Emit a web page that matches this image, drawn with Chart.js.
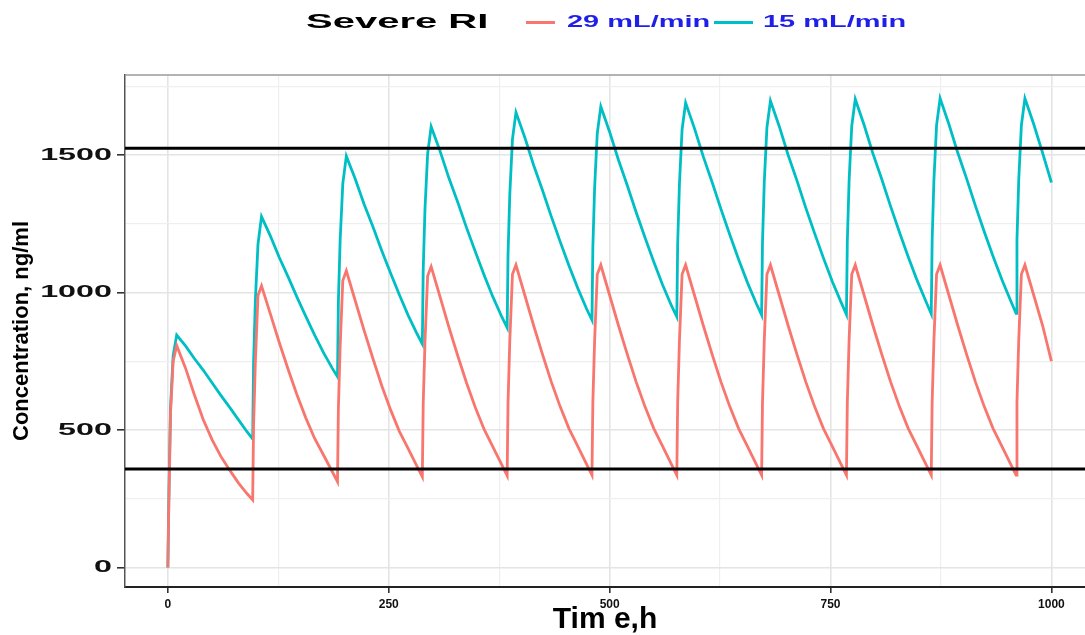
<!DOCTYPE html>
<html>
<head>
<meta charset="utf-8">
<script src="https://cdn.jsdelivr.net/npm/chart.js@4.4.1/dist/chart.umd.min.js"></script>
<style>
  html, body { margin: 0; padding: 0; background: #fff; overflow: hidden; }
  #wrap { position: relative; width: 1085px; height: 635px; }
  #grafico { position: absolute; left: 0; top: 0; }
  .leg { position: absolute; font-family: "Liberation Sans", Arial, sans-serif; font-weight: bold; white-space: nowrap; transform-origin: 0 0; }
  #titulo { left: 306px; top: 11px; font-size: 20px; line-height: 20px; color: #000; }
  .serie { top: 13px; font-size: 17px; line-height: 17px; color: #1f1fe8; }
  .traco { position: absolute; top: 21px; height: 3px; }
</style>
</head>
<body>
<div id="wrap">
  <canvas id="grafico" width="1085" height="635"></canvas>
  <span id="titulo" class="leg">Severe RI</span>
  <div class="traco" style="left:526px;width:29px;background:#F8766D"></div>
  <span id="leg29" class="leg serie" style="left:567px">29 mL/min</span>
  <div class="traco" style="left:714px;width:39px;background:#00BFC4"></div>
  <span id="leg15" class="leg serie" style="left:763px">15 mL/min</span>
</div>
<script>
// horas de cada dose e pontos lidos dentro de cada intervalo
const doseTimes = [0, 96, 192, 288, 384, 480, 576, 672, 768, 864, 960];
const sampleOffsets = [0, 1, 3, 6, 10, 20, 30, 40, 50, 60, 70, 80, 90];

// 29 mL/min, um array por intervalo de dose (ng/ml)
const conc29 = [
  [0, 210, 560, 750, 807, 725, 628, 538, 465, 404, 354, 307, 267],
  [246, 514, 744, 989, 1024, 922, 819, 722, 629, 545, 470, 410, 349],
  [312, 577, 803, 1044, 1079, 971, 863, 761, 662, 574, 495, 432, 368],
  [330, 594, 819, 1060, 1094, 985, 875, 771, 672, 582, 502, 438, 373],
  [334, 598, 824, 1066, 1100, 990, 880, 775, 675, 585, 505, 440, 375],
  [336, 600, 825, 1066, 1100, 990, 880, 775, 675, 585, 505, 440, 375],
  [336, 600, 825, 1066, 1100, 990, 880, 775, 675, 585, 505, 440, 375],
  [336, 600, 825, 1066, 1100, 990, 880, 775, 675, 585, 505, 440, 375],
  [336, 600, 825, 1066, 1100, 990, 880, 775, 675, 585, 505, 440, 375],
  [336, 600, 825, 1066, 1100, 990, 880, 775, 675, 585, 505, 440, 375],
  [336, 600, 825, 1066, 1100, 990, 880, 750]
];

// 15 mL/min
const conc15 = [
  [0, 230, 580, 770, 845, 806, 760, 718, 672, 626, 582, 537, 492],
  [467, 742, 969, 1175, 1276, 1206, 1128, 1058, 984, 914, 846, 782, 725],
  [694, 967, 1191, 1396, 1496, 1414, 1322, 1240, 1153, 1071, 992, 917, 850],
  [813, 1082, 1303, 1504, 1603, 1515, 1417, 1329, 1236, 1148, 1063, 983, 911],
  [872, 1138, 1357, 1557, 1655, 1564, 1463, 1372, 1276, 1185, 1097, 1015, 940],
  [900, 1164, 1381, 1579, 1676, 1584, 1482, 1389, 1292, 1200, 1111, 1027, 952],
  [912, 1177, 1394, 1593, 1690, 1597, 1494, 1401, 1303, 1210, 1120, 1036, 960],
  [918, 1183, 1401, 1600, 1697, 1604, 1500, 1407, 1308, 1215, 1125, 1040, 964],
  [920, 1186, 1405, 1605, 1703, 1609, 1505, 1412, 1313, 1219, 1129, 1044, 967],
  [922, 1189, 1408, 1608, 1706, 1612, 1508, 1414, 1315, 1221, 1131, 1046, 969],
  [924, 1190, 1409, 1608, 1706, 1612, 1508, 1400]
];

const limites = [1525, 358];
const xTicks = [0, 250, 500, 750, 1000];
const xMinorTicks = [125, 375, 625, 875];
const yTicks = [0, 500, 1000, 1500];
const yMinorTicks = [250, 750, 1250, 1750];

const xMin = -48.5, xMax = 1038;
const yMin = -71, yMax = 1791;

function montarSerie(ciclos) {
  const pontos = [];
  ciclos.forEach((ciclo, i) => {
    ciclo.forEach((v, j) => pontos.push({ x: doseTimes[i] + sampleOffsets[j], y: v }));
  });
  return pontos;
}

function linhaH(valor) {
  return [{ x: xMin, y: valor }, { x: xMax, y: valor }];
}

function todosTicks(maiores, menores) {
  return maiores.concat(menores).sort((a, b) => a - b).map(v => ({ value: v }));
}

// labels do eixo y esticados na horizontal como no original
const esticaY = {
  id: "esticaY",
  afterDatasetsDraw(chart) {
    const ax = chart.scales.y.right - 8 - 5;
    const s = 1.9;
    chart.ctx.setTransform(s, 0, 0, 1, ax * (1 - s), 0);
  },
  afterDraw(chart) {
    chart.ctx.setTransform(1, 0, 0, 1, 0, 0);
  }
};

const moldura = {
  id: "moldura",
  beforeDatasetsDraw(chart) {
    const { ctx, chartArea } = chart;
    ctx.save();
    ctx.strokeStyle = "#9a9a9a";
    ctx.lineWidth = 1.5;
    ctx.beginPath();
    ctx.moveTo(chartArea.left, chartArea.top);
    ctx.lineTo(chartArea.right, chartArea.top);
    ctx.stroke();
    ctx.restore();
  }
};

const fonte = "'Liberation Sans', Arial, sans-serif";

new Chart(document.getElementById("grafico"), {
  type: "line",
  data: {
    datasets: [
      { label: "sup", data: linhaH(limites[0]), borderColor: "#000", borderWidth: 3 },
      { label: "inf", data: linhaH(limites[1]), borderColor: "#000", borderWidth: 3 },
      { label: "29 mL/min", data: montarSerie(conc29), borderColor: "#F8766D", borderWidth: 2.8 },
      { label: "15 mL/min", data: montarSerie(conc15), borderColor: "#00BFC4", borderWidth: 2.8 }
    ]
  },
  options: {
    responsive: false,
    animation: false,
    elements: { point: { radius: 0 }, line: { tension: 0 } },
    layout: { padding: { top: 75, right: 0, left: 0, bottom: 0 } },
    plugins: { legend: { display: false }, tooltip: { enabled: false } },
    scales: {
      x: {
        type: "linear",
        min: xMin,
        max: xMax,
        afterBuildTicks: axis => { axis.ticks = todosTicks(xTicks, xMinorTicks); },
        afterFit: scale => { scale.height = 48; },
        ticks: {
          autoSkip: false,
          maxRotation: 0,
          padding: 4,
          color: "#111",
          font: { family: fonte, weight: "bold", size: 12 },
          callback: v => xTicks.includes(v) ? String(v) : ""
        },
        grid: {
          color: c => xTicks.includes(c.tick.value) ? "#e4e4e4" : "#efefef",
          lineWidth: c => xTicks.includes(c.tick.value) ? 1.6 : 1.2,
          tickColor: c => xTicks.includes(c.tick.value) ? "#333" : "rgba(0,0,0,0)",
          tickLength: 6
        },
        border: { display: true, color: "#222", width: 2 },
        title: {
          display: true,
          text: "Tim e,h",
          color: "#000",
          font: { family: fonte, weight: "bold", size: 30, lineHeight: 1 },
          padding: { top: 0, bottom: 0 }
        }
      },
      y: {
        type: "linear",
        min: yMin,
        max: yMax,
        afterBuildTicks: axis => { axis.ticks = todosTicks(yTicks, yMinorTicks); },
        afterFit: scale => { scale.width = 125; },
        ticks: {
          z: 1,
          autoSkip: false,
          padding: 5,
          color: "#111",
          font: { family: fonte, weight: "bold", size: 17 },
          callback: v => yTicks.includes(v) ? String(v) : ""
        },
        grid: {
          color: c => yTicks.includes(c.tick.value) ? "#e4e4e4" : "#efefef",
          lineWidth: c => yTicks.includes(c.tick.value) ? 1.6 : 1.2,
          tickColor: c => yTicks.includes(c.tick.value) ? "#333" : "rgba(0,0,0,0)",
          tickLength: 8
        },
        border: { display: true, color: "#555", width: 1.5 },
        title: {
          display: true,
          text: "Concentration, ng/ml",
          color: "#000",
          font: { family: fonte, weight: "bold", size: 22, lineHeight: 1 },
          padding: { top: 11, bottom: 0 }
        }
      }
    }
  },
  plugins: [esticaY, moldura]
});

function esticar(id, largura) {
  const el = document.getElementById(id);
  el.style.transform = "scaleX(" + (largura / el.offsetWidth) + ")";
}
esticar("titulo", 182);
esticar("leg29", 143);
esticar("leg15", 143);
</script>
</body>
</html>
